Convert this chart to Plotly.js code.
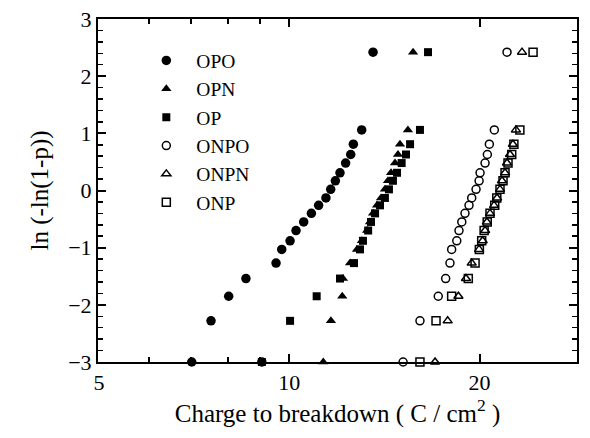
<!DOCTYPE html>
<html><head><meta charset="utf-8">
<script src="https://cdn.plot.ly/plotly-3.0.1.min.js"></script>
<style>html,body{margin:0;padding:0;background:#fff}#chart{width:590px;height:438px}</style>
</head><body><div id="chart"></div>
<script>
// y levels ln(-ln(1-p)) shared by series
const yLevels = [2.42, 1.06, 0.81, 0.63, 0.48, 0.31, 0.17, 0.02, -0.13, -0.26, -0.40, -0.55, -0.70, -0.88, -1.03, -1.27, -1.54, -1.85, -2.28, -3.0];

const opoX  = [13.57, 13.02, 12.63, 12.51, 12.28, 12.03, 11.83, 11.63, 11.43, 11.13, 10.84, 10.54, 10.25, 10.03, 9.73, 9.53, 8.54, 8.02, 7.52, 7.01];
const opoY  = [2.42, 1.06, 0.81, 0.63, 0.48, 0.31, 0.17, 0.02, -0.13, -0.26, -0.40, -0.55, -0.70, -0.88, -1.03, -1.27, -1.54, -1.85, -2.28, -3.0];
const opoExtraX = [9.05];
const opoExtraY = [-3.0];

const opnX  = [15.70, 15.41, 14.97, 14.86, 14.70, 14.49, 14.33, 14.17, 13.97, 13.77, 13.57, 13.42, 13.28, 13.03, 12.80, 12.48, 12.16, 12.13, 11.64, 11.32];
const opX   = [16.58, 16.10, 15.53, 15.30, 15.06, 14.81, 14.59, 14.38, 14.17, 13.92, 13.67, 13.47, 13.33, 13.08, 12.94, 12.66, 12.03, 11.05, 10.03, 9.05];

const onpoX = [22.11, 21.11, 20.73, 20.58, 20.41, 20.04, 19.97, 19.75, 19.44, 19.25, 18.97, 18.75, 18.56, 18.41, 18.07, 17.96, 17.68, 17.21, 16.10, 15.14];
const onpnX = [23.35, 22.84, 22.59, 22.35, 22.11, 21.95, 21.71, 21.55, 21.32, 21.09, 20.78, 20.55, 20.41, 20.23, 19.97, 19.44, 19.04, 18.52, 17.81, 17.01];
const onpX  = [24.31, 23.17, 22.67, 22.49, 22.19, 21.95, 21.79, 21.55, 21.30, 21.14, 20.78, 20.57, 20.34, 20.16, 19.99, 19.68, 19.20, 18.07, 17.07, 16.10];

const seriesNames = ['OPO', 'OPN', 'OP', 'ONPO', 'ONPN', 'ONP'];
const xTickVals = [5, 10, 20];
const xMinorVals = [6, 7, 8, 9];
const xTitle = 'Charge to breakdown ( C / cm<sup>2</sup> )';
const yTitle = 'ln (-ln(1-p))';

const black = '#000';
function tr(name, xs, ys, symbol, size, lw, show, group) {
  return {
    type: 'scatter', mode: 'markers', name: name, x: xs, y: ys,
    cliponaxis: false, showlegend: show, legendgroup: group || name,
    marker: {symbol: symbol, size: size, color: black, line: {color: black, width: lw}}
  };
}
const data = [
  tr(seriesNames[0], opoX, opoY, 'circle', 9.5, 0, true),
  tr(seriesNames[0], opoExtraX, opoExtraY, 'circle', 9.5, 0, false, 'OPO'),
  tr(seriesNames[1], opnX, yLevels, 'triangle-up', 9, 0, true),
  tr(seriesNames[2], opX, yLevels, 'square', 8, 0, true),
  tr(seriesNames[3], onpoX, yLevels, 'circle-open', 8, 1.5, true),
  tr(seriesNames[4], onpnX, yLevels, 'triangle-up-open', 8, 1.5, true),
  tr(seriesNames[5], onpX, yLevels, 'square-open', 8, 1.5, true)
];

const font = {family: '"Liberation Serif", "Times New Roman", serif', color: black};
const layout = {
  width: 590, height: 438,
  margin: {l: 98, r: 13, t: 19, b: 76},
  paper_bgcolor: '#fff', plot_bgcolor: '#fff',
  font: Object.assign({size: 22}, font),
  showlegend: true,
  legend: {
    x: 0.08, y: 0.935, xanchor: 'left', yanchor: 'top',
    bgcolor: 'rgba(0,0,0,0)', borderwidth: 0,
    font: Object.assign({size: 19.5}, font),
    itemwidth: 50, tracegroupgap: 0
  },
  xaxis: {
    type: 'log', range: [Math.log10(5) - 1/632, Math.log10(5) + 478/632],
    tickvals: xTickVals, ticktext: xTickVals.map(String),
    ticks: 'inside', ticklen: 8, tickwidth: 2, tickcolor: black,
    minor: {tickvals: xMinorVals, ticks: 'inside', ticklen: 5, tickwidth: 2, tickcolor: black},
    showline: true, linecolor: black, linewidth: 2, mirror: 'allticks',
    showgrid: false, zeroline: false,
    tickfont: Object.assign({size: 22}, font),
    title: {text: xTitle, font: Object.assign({size: 25}, font), standoff: 4}
  },
  yaxis: {
    range: [-3, 3], tickvals: [-3, -2, -1, 0, 1, 2, 3],
    ticks: 'inside', ticklen: 8, tickwidth: 2, tickcolor: black,
    minor: {dtick: 0.2, ticks: 'inside', ticklen: 5, tickwidth: 1.5, tickcolor: black},
    showline: true, linecolor: black, linewidth: 2, mirror: 'allticks',
    showgrid: false, zeroline: false,
    tickfont: Object.assign({size: 22}, font),
    title: {text: yTitle, font: Object.assign({size: 25}, font), standoff: 12}
  }
};
Plotly.newPlot('chart', data, layout, {staticPlot: true, displayModeBar: false});
</script></body></html>
